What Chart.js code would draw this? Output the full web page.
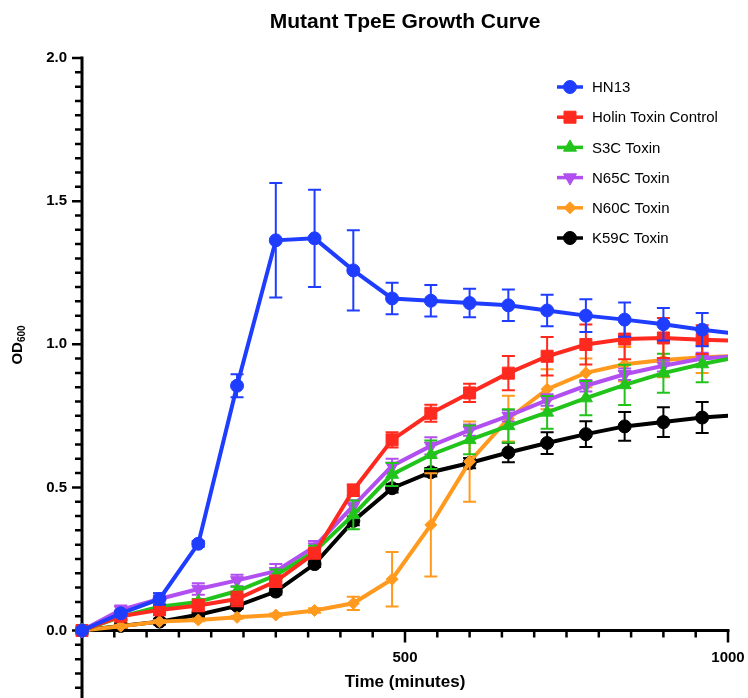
<!DOCTYPE html>
<html>
<head>
<meta charset="utf-8">
<title>Mutant TpeE Growth Curve</title>
<script src="https://cdn.jsdelivr.net/npm/chart.js@4.4.1/dist/chart.umd.min.js"></script>
<style>
  html, body { margin: 0; padding: 0; background: #fff; overflow: hidden; }
  #wrap { width: 748px; height: 698px; }
</style>
</head>
<body>
<div id="wrap"><canvas id="growth" width="748" height="698"></canvas></div>
<script>
// Time points (minutes) and OD600 readings, mean and SD for each strain.
const timeMinutes = [0, 60, 120, 180, 240, 300, 360, 420, 480, 540, 600, 660, 720, 780, 840, 900, 960, 1020];

const hn13Mean   = [0.0, 0.06, 0.11, 0.303, 0.855, 1.363, 1.370, 1.258, 1.160, 1.152, 1.144, 1.136, 1.118, 1.100, 1.086, 1.070, 1.051, 1.035];
const hn13Sd     = [0, 0.01, 0.02, 0.01, 0.04, 0.20, 0.17, 0.14, 0.055, 0.055, 0.05, 0.055, 0.055, 0.057, 0.06, 0.057, 0.058, 0.058];

const holinMean  = [0.0, 0.05, 0.072, 0.087, 0.11, 0.172, 0.27, 0.49, 0.666, 0.759, 0.83, 0.899, 0.958, 0.999, 1.018, 1.022, 1.016, 1.012];
const holinSd    = [0.005, 0.01, 0.015, 0.02, 0.025, 0.02, 0.015, 0.02, 0.027, 0.03, 0.032, 0.06, 0.067, 0.07, 0.07, 0.07, 0.05, 0.05];

const s3cMean    = [0.0, 0.048, 0.083, 0.10, 0.138, 0.193, 0.276, 0.404, 0.545, 0.614, 0.666, 0.715, 0.762, 0.812, 0.858, 0.899, 0.931, 0.957];
const s3cSd      = [0, 0.01, 0.01, 0.01, 0.015, 0.02, 0.02, 0.05, 0.04, 0.05, 0.05, 0.058, 0.057, 0.06, 0.07, 0.068, 0.064, 0.06];

const n65cMean   = [0.0, 0.072, 0.11, 0.145, 0.175, 0.207, 0.293, 0.435, 0.575, 0.645, 0.70, 0.75, 0.805, 0.855, 0.895, 0.925, 0.95, 0.96];
const n65cSd     = [0, 0.015, 0.02, 0.02, 0.02, 0.025, 0.02, 0.02, 0.025, 0.03, 0.02, 0.02, 0.02, 0.02, 0.02, 0.02, 0.02, 0.02];

const n60cMean   = [0.0, 0.015, 0.031, 0.037, 0.046, 0.054, 0.07, 0.095, 0.179, 0.369, 0.59, 0.74, 0.843, 0.90, 0.93, 0.945, 0.955, 0.96];
const n60cSd     = [0, 0.005, 0.005, 0.005, 0.005, 0.005, 0.008, 0.023, 0.095, 0.18, 0.14, 0.08, 0.07, 0.05, 0.06, 0.06, 0.055, 0.05];

const k59cMean   = [0.0, 0.016, 0.031, 0.055, 0.086, 0.136, 0.232, 0.383, 0.497, 0.553, 0.585, 0.622, 0.655, 0.686, 0.713, 0.728, 0.744, 0.753];
const k59cSd     = [0, 0.01, 0.01, 0.01, 0.01, 0.01, 0.01, 0.015, 0.015, 0.015, 0.018, 0.034, 0.038, 0.045, 0.05, 0.052, 0.054, 0.054];

const seriesNames = ['HN13', 'Holin Toxin Control', 'S3C Toxin', 'N65C Toxin', 'N60C Toxin', 'K59C Toxin'];
const seriesMeans = [hn13Mean, holinMean, s3cMean, n65cMean, n60cMean, k59cMean];
const seriesSds   = [hn13Sd, holinSd, s3cSd, n65cSd, n60cSd, k59cSd];

// Axis ranges and tick spacing
const xMax = 1000, xMinorStep = 50, xMajorStep = 500;
const yMax = 2.0, yMinorStep = 0.05, yMajorStep = 0.5;

// Look of each series: colour and marker
const seriesStyles = [
  { color: '#1f3dff', pointStyle: 'circle',   rotation: 0,   radius: 6.5 },
  { color: '#ff2a1f', pointStyle: 'rect',     rotation: 0,   radius: 8.5 },
  { color: '#22c41c', pointStyle: 'triangle', rotation: 0,   radius: 7.5 },
  { color: '#b24ff0', pointStyle: 'triangle', rotation: 180, radius: 7.5 },
  { color: '#ff9a1f', pointStyle: 'rectRot',  rotation: 0,   radius: 6 },
  { color: '#000000', pointStyle: 'circle',   rotation: 0,   radius: 6.5 }
];

const FONT = "'Liberation Sans', Arial, Helvetica, sans-serif";

const datasets = seriesNames.map((name, i) => ({
  label: name,
  data: timeMinutes.map((t, k) => ({ x: t, y: seriesMeans[i][k] })),
  borderColor: seriesStyles[i].color,
  backgroundColor: seriesStyles[i].color,
  pointBackgroundColor: seriesStyles[i].color,
  pointBorderColor: seriesStyles[i].color,
  pointStyle: seriesStyles[i].pointStyle,
  pointRotation: seriesStyles[i].rotation,
  pointRadius: seriesStyles[i].radius,
  pointBorderWidth: 1,
  borderWidth: 4,
  tension: 0,
  fill: false,
  clip: { left: 12, top: 12, right: 0, bottom: 12 }
}));

// Error bars go under each dataset's own line and markers
const errorBars = {
  id: 'errorBars',
  beforeDatasetDraw(chart, args) {
    const i = args.index;
    const xs = chart.scales.x, ys = chart.scales.y, ctx = chart.ctx;
    ctx.save();
    ctx.strokeStyle = seriesStyles[i].color;
    ctx.lineWidth = 2;
    timeMinutes.forEach((t, k) => {
      const sd = seriesSds[i][k];
      if (!sd || t > xMax) return;
      const px = xs.getPixelForValue(t);
      const top = ys.getPixelForValue(seriesMeans[i][k] + sd);
      const bot = ys.getPixelForValue(seriesMeans[i][k] - sd);
      ctx.beginPath();
      ctx.moveTo(px, top); ctx.lineTo(px, bot);
      ctx.moveTo(px - 6.5, top); ctx.lineTo(px + 6.5, top);
      ctx.moveTo(px - 6.5, bot); ctx.lineTo(px + 6.5, bot);
      ctx.stroke();
    });
    ctx.restore();
  }
};

// Axis lines with major/minor ticks; the y axis runs on below zero
const prismAxes = {
  id: 'prismAxes',
  beforeDatasetsDraw(chart) {
    const xs = chart.scales.x, ys = chart.scales.y, ctx = chart.ctx;
    const x0 = xs.getPixelForValue(0), y0 = ys.getPixelForValue(0);
    const bottom = chart.height + 5;
    ctx.save();
    ctx.strokeStyle = '#000';
    ctx.lineCap = 'square';
    ctx.lineWidth = 3;
    ctx.beginPath();
    ctx.moveTo(x0, ys.getPixelForValue(yMax));
    ctx.lineTo(x0, bottom);
    ctx.moveTo(x0, y0);
    ctx.lineTo(xs.getPixelForValue(xMax), y0);
    ctx.stroke();

    ctx.lineWidth = 2.5;
    ctx.lineCap = 'butt';
    ctx.beginPath();
    for (let v = xMinorStep; v <= xMax + 1e-6; v += xMinorStep) {
      const px = xs.getPixelForValue(v);
      const len = (Math.round(v) % xMajorStep === 0) ? 12 : 7;
      ctx.moveTo(px, y0);
      ctx.lineTo(px, y0 + len);
    }
    for (let n = -6; n <= Math.round(yMax / yMinorStep); n++) {
      const v = n * yMinorStep;
      const py = ys.getPixelForValue(v);
      if (py > bottom) continue;
      const len = (n % Math.round(yMajorStep / yMinorStep) === 0) ? 10 : 7;
      ctx.moveTo(x0, py);
      ctx.lineTo(x0 - len, py);
    }
    ctx.stroke();
    ctx.restore();
  },
  afterDraw(chart) {
    const xs = chart.scales.x, ctx = chart.ctx;
    ctx.save();
    ctx.fillStyle = '#000';
    // x axis title
    ctx.font = 'bold 17px ' + FONT;
    ctx.textAlign = 'center';
    ctx.textBaseline = 'middle';
    ctx.fillText('Time (minutes)', (xs.left + xs.right) / 2, 682);

    // y axis title with subscript
    ctx.translate(22, 345);
    ctx.rotate(-Math.PI / 2);
    ctx.textAlign = 'left';
    ctx.textBaseline = 'alphabetic';
    ctx.font = 'bold 15px ' + FONT;
    const wMain = ctx.measureText('OD').width;
    ctx.font = 'bold 10px ' + FONT;
    const wSub = ctx.measureText('600').width;
    const start = -(wMain + wSub) / 2;
    ctx.font = 'bold 15px ' + FONT;
    ctx.fillText('OD', start, 0);
    ctx.font = 'bold 10px ' + FONT;
    ctx.fillText('600', start + wMain, 3);
    ctx.restore();
  }
};

// Legend: short line with the series marker, then the name
const lineLegend = {
  id: 'lineLegend',
  afterDraw(chart) {
    const ctx = chart.ctx;
    ctx.save();
    seriesNames.forEach((name, i) => {
      const st = seriesStyles[i];
      const y = 87 + i * 30.2;
      ctx.strokeStyle = st.color;
      ctx.fillStyle = st.color;
      ctx.lineWidth = 3.5;
      ctx.beginPath();
      ctx.moveTo(557, y);
      ctx.lineTo(583, y);
      ctx.stroke();
      ctx.lineWidth = 1;
      Chart.helpers.drawPoint(ctx, {
        pointStyle: st.pointStyle, rotation: st.rotation, radius: st.radius, borderWidth: 1
      }, 570, y);
      ctx.fillStyle = '#000';
      ctx.font = '15px ' + FONT;
      ctx.textAlign = 'left';
      ctx.textBaseline = 'middle';
      ctx.fillText(name, 592, y + 1);
    });
    ctx.restore();
  }
};

new Chart(document.getElementById('growth'), {
  type: 'line',
  data: { datasets },
  options: {
    responsive: false,
    animation: false,
    devicePixelRatio: 1,
    layout: { padding: { top: 0, right: 20, bottom: 0, left: 0 } },
    scales: {
      x: {
        type: 'linear',
        min: 0,
        max: xMax,
        grid: { display: false, drawTicks: false },
        border: { display: false },
        ticks: {
          stepSize: xMajorStep,
          padding: 18,
          maxRotation: 0,
          color: '#000',
          font: { family: FONT, size: 15, weight: 'bold' },
          callback: (v) => (v === 0 ? '' : v)
        },
        afterFit: (s) => { s.height = 67.5; s.paddingLeft = 0; s.paddingRight = 0; }
      },
      y: {
        min: 0,
        max: yMax,
        grid: { display: false, drawTicks: false },
        border: { display: false },
        ticks: {
          stepSize: yMajorStep,
          padding: 15,
          color: '#000',
          font: { family: FONT, size: 15, weight: 'bold' },
          callback: (v) => v.toFixed(1)
        },
        afterFit: (s) => { s.width = 82; }
      }
    },
    plugins: {
      legend: { display: false },
      tooltip: { enabled: false },
      title: {
        display: true,
        text: 'Mutant TpeE Growth Curve',
        fullSize: false,
        color: '#000',
        font: { family: FONT, size: 21, weight: 'bold' },
        padding: { top: 10, bottom: 22.8 }
      }
    }
  },
  plugins: [errorBars, prismAxes, lineLegend]
});
</script>
</body>
</html>
